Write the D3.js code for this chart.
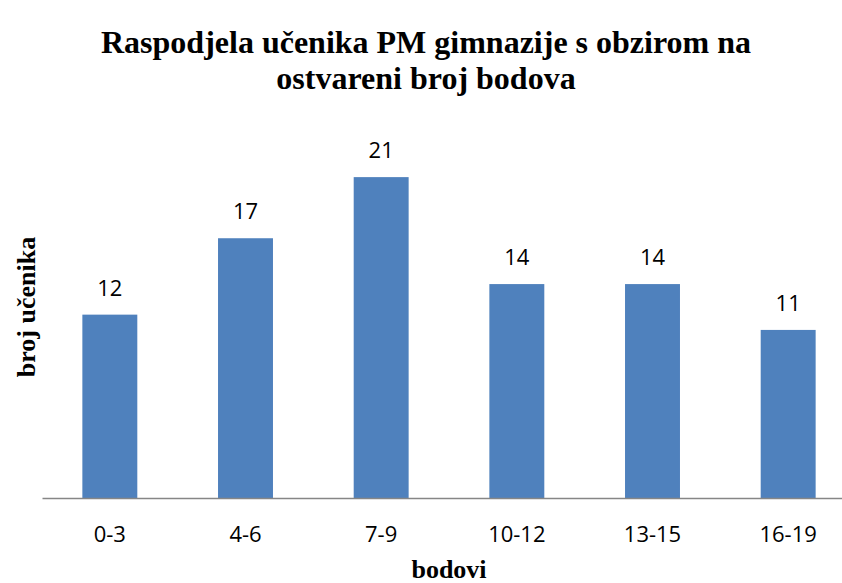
<!DOCTYPE html>
<html lang="hr">
  <head>
    <meta charset="UTF-8" />
    <title>Raspodjela učenika PM gimnazije</title>
    <script src="https://d3js.org/d3.v7.min.js"></script>
    <style>
      body {
        margin: 0;
        background: #fff;
      }
      svg {
        display: block;
      }
      .title,
      .axis-label {
        font-family: "Liberation Serif", "Times New Roman", serif;
        font-weight: bold;
        fill: #000;
      }
      .value,
      .x-axis text {
        font-family: "Open Sans", sans-serif;
        font-size: 22px;
        fill: #000;
      }
    </style>
  </head>
  <body>
    <svg width="842" height="583"></svg>
    <script>
      // chart data
      const categories = ["0-3", "4-6", "7-9", "10-12", "13-15", "16-19"];
      const counts = [12, 17, 21, 14, 14, 11];
      const titleLines = [
        "Raspodjela učenika PM gimnazije s obzirom na",
        "ostvareni broj bodova",
      ];

      const svg = d3.select("svg");
      const margin = { top: 116, right: -14, bottom: 85, left: 42 },
        width = 842 - margin.left - margin.right,
        height = 583 - margin.top - margin.bottom;
      const titleX = 426; // title is centred on the whole chart, not the plot

      const g = svg
        .append("g")
        .attr("transform", `translate(${margin.left},${margin.top})`);

      const x = d3
        .scaleBand()
        .domain(categories)
        .range([0, width])
        .paddingInner(0.595)
        .paddingOuter(0.2975);

      const y = d3.scaleLinear().domain([0, 25]).range([height, 0]);

      // bars
      g.selectAll(".bar")
        .data(categories)
        .enter()
        .append("rect")
        .attr("class", "bar")
        .attr("x", (d) => x(d))
        .attr("y", (d, i) => y(counts[i]))
        .attr("width", x.bandwidth())
        .attr("height", (d, i) => height - y(counts[i]))
        .attr("fill", "#4f81bd");

      // value labels
      g.selectAll(".value")
        .data(categories)
        .enter()
        .append("text")
        .attr("class", "value")
        .attr("x", (d) => x(d) + x.bandwidth() / 2)
        .attr("y", (d, i) => y(counts[i]) - 19)
        .attr("text-anchor", "middle")
        .text((d, i) => counts[i]);

      // x axis
      const xAxis = g
        .append("g")
        .attr("class", "x-axis")
        .attr("transform", `translate(0,${height})`)
        .call(d3.axisBottom(x).tickSize(0).tickSizeOuter(0));
      xAxis
        .select(".domain")
        .attr("stroke", "#868686")
        .attr("stroke-width", 1.5);
      xAxis
        .selectAll("text")
        .attr("y", 44)
        .attr("dy", null)
        .attr("font-family", null)
        .attr("font-size", null);

      // title
      svg
        .append("text")
        .attr("class", "title")
        .attr("x", titleX)
        .attr("y", 53)
        .attr("text-anchor", "middle")
        .style("font-size", "32px")
        .selectAll("tspan")
        .data(titleLines)
        .enter()
        .append("tspan")
        .attr("x", titleX)
        .attr("dy", (d, i) => (i === 0 ? 0 : 36))
        .text((d) => d);

      // axis titles
      svg
        .append("text")
        .attr("class", "axis-label")
        .attr("x", margin.left + width / 2)
        .attr("y", 578)
        .attr("text-anchor", "middle")
        .style("font-size", "26px")
        .text("bodovi");

      svg
        .append("text")
        .attr("class", "axis-label")
        .attr("transform", `translate(35,${margin.top + height / 2}) rotate(-90)`)
        .attr("text-anchor", "middle")
        .style("font-size", "26px")
        .text("broj učenika");
    </script>
  </body>
</html>
